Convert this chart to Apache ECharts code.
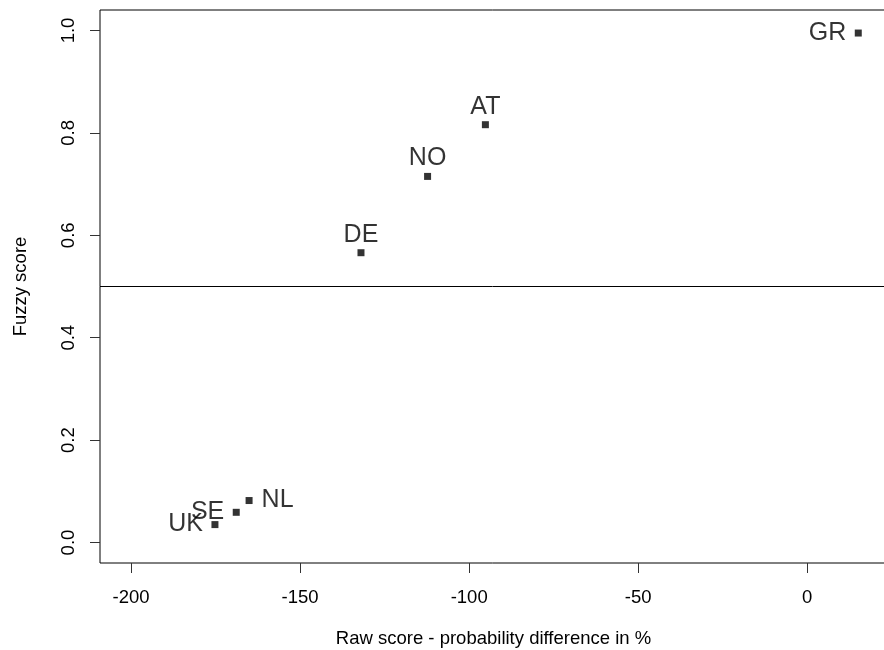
<!DOCTYPE html>
<html>
<head>
<meta charset="utf-8">
<script src="https://cdn.jsdelivr.net/npm/echarts@6/dist/echarts.min.js"></script>
<style>
html,body{margin:0;padding:0;background:#fff;}
#chart{width:884px;height:650px;}
</style>
</head>
<body>
<div id="chart"></div>
<script>
// ---- data ----
var countries = ['UK', 'SE', 'NL', 'DE', 'NO', 'AT', 'GR'];
var rawScore = [-175.2, -168.9, -165.1, -132.0, -112.3, -95.2, 15.1];
var fuzzyScore = [0.035, 0.059, 0.082, 0.566, 0.715, 0.816, 0.995];
var xTicks = [-200, -150, -100, -50, 0];
var yTicks = [0, 0.2, 0.4, 0.6, 0.8, 1.0];
var threshold = [0.5];

// ---- styling ----
var FONT = '"Liberation Sans", Arial, sans-serif';
var labelSide = { UK: 'left', SE: 'left', NL: 'right', DE: 'top', NO: 'top', AT: 'top', GR: 'left' };
var labelGap = { top: 2, left: 8.5, right: 9 };

var points = countries.map(function (c, i) {
  var side = labelSide[c];
  return {
    name: c,
    value: [rawScore[i], fuzzyScore[i]],
    label: { show: true, position: side, distance: labelGap[side], formatter: c }
  };
});

var chart = echarts.init(document.getElementById('chart'), null, { renderer: 'canvas' });
chart.setOption({
  animation: false,
  backgroundColor: '#fff',
  grid: { left: 100, right: -3, top: 10, bottom: 87, show: true, borderColor: '#000', borderWidth: 1,
    backgroundColor: 'transparent', containLabel: false, outerBoundsMode: 'none' },
  xAxis: {
    type: 'value', min: -209.2, max: 23.6,
    name: 'Raw score - probability difference in %',
    nameLocation: 'middle', nameGap: 66,
    nameTextStyle: { fontFamily: FONT, fontSize: 18.5, color: '#000' },
    axisLine: { show: false, onZero: false },
    axisTick: { show: true, inside: false, length: 10, customValues: xTicks, lineStyle: { color: '#333', width: 1 } },
    axisLabel: { customValues: xTicks, margin: 25, fontFamily: FONT, fontSize: 18.5, color: '#000' },
    splitLine: { show: false }
  },
  yAxis: {
    type: 'value', min: -0.04, max: 1.04,
    name: 'Fuzzy score',
    nameLocation: 'middle', nameGap: 70, nameRotate: 90,
    nameTextStyle: { fontFamily: FONT, fontSize: 18.5, color: '#000' },
    axisLine: { show: false, onZero: false },
    axisTick: { show: true, inside: false, length: 10, customValues: yTicks, lineStyle: { color: '#333', width: 1 } },
    axisLabel: { customValues: yTicks, rotate: 90, margin: 22, fontFamily: FONT, fontSize: 18.5, color: '#000',
      formatter: function (v) { return v.toFixed(1); } },
    splitLine: { show: false }
  },
  series: [{
    type: 'scatter',
    symbol: 'rect',
    symbolSize: 7,
    itemStyle: { color: '#000' },
    label: { fontFamily: FONT, fontSize: 25, color: '#000' },
    data: points,
    markLine: {
      silent: true,
      symbol: ['none', 'none'],
      label: { show: false },
      lineStyle: { color: '#000', width: 1, type: 'solid' },
      data: threshold.map(function (t) { return { yAxis: t }; })
    }
  }]
});
</script>
</body>
</html>
